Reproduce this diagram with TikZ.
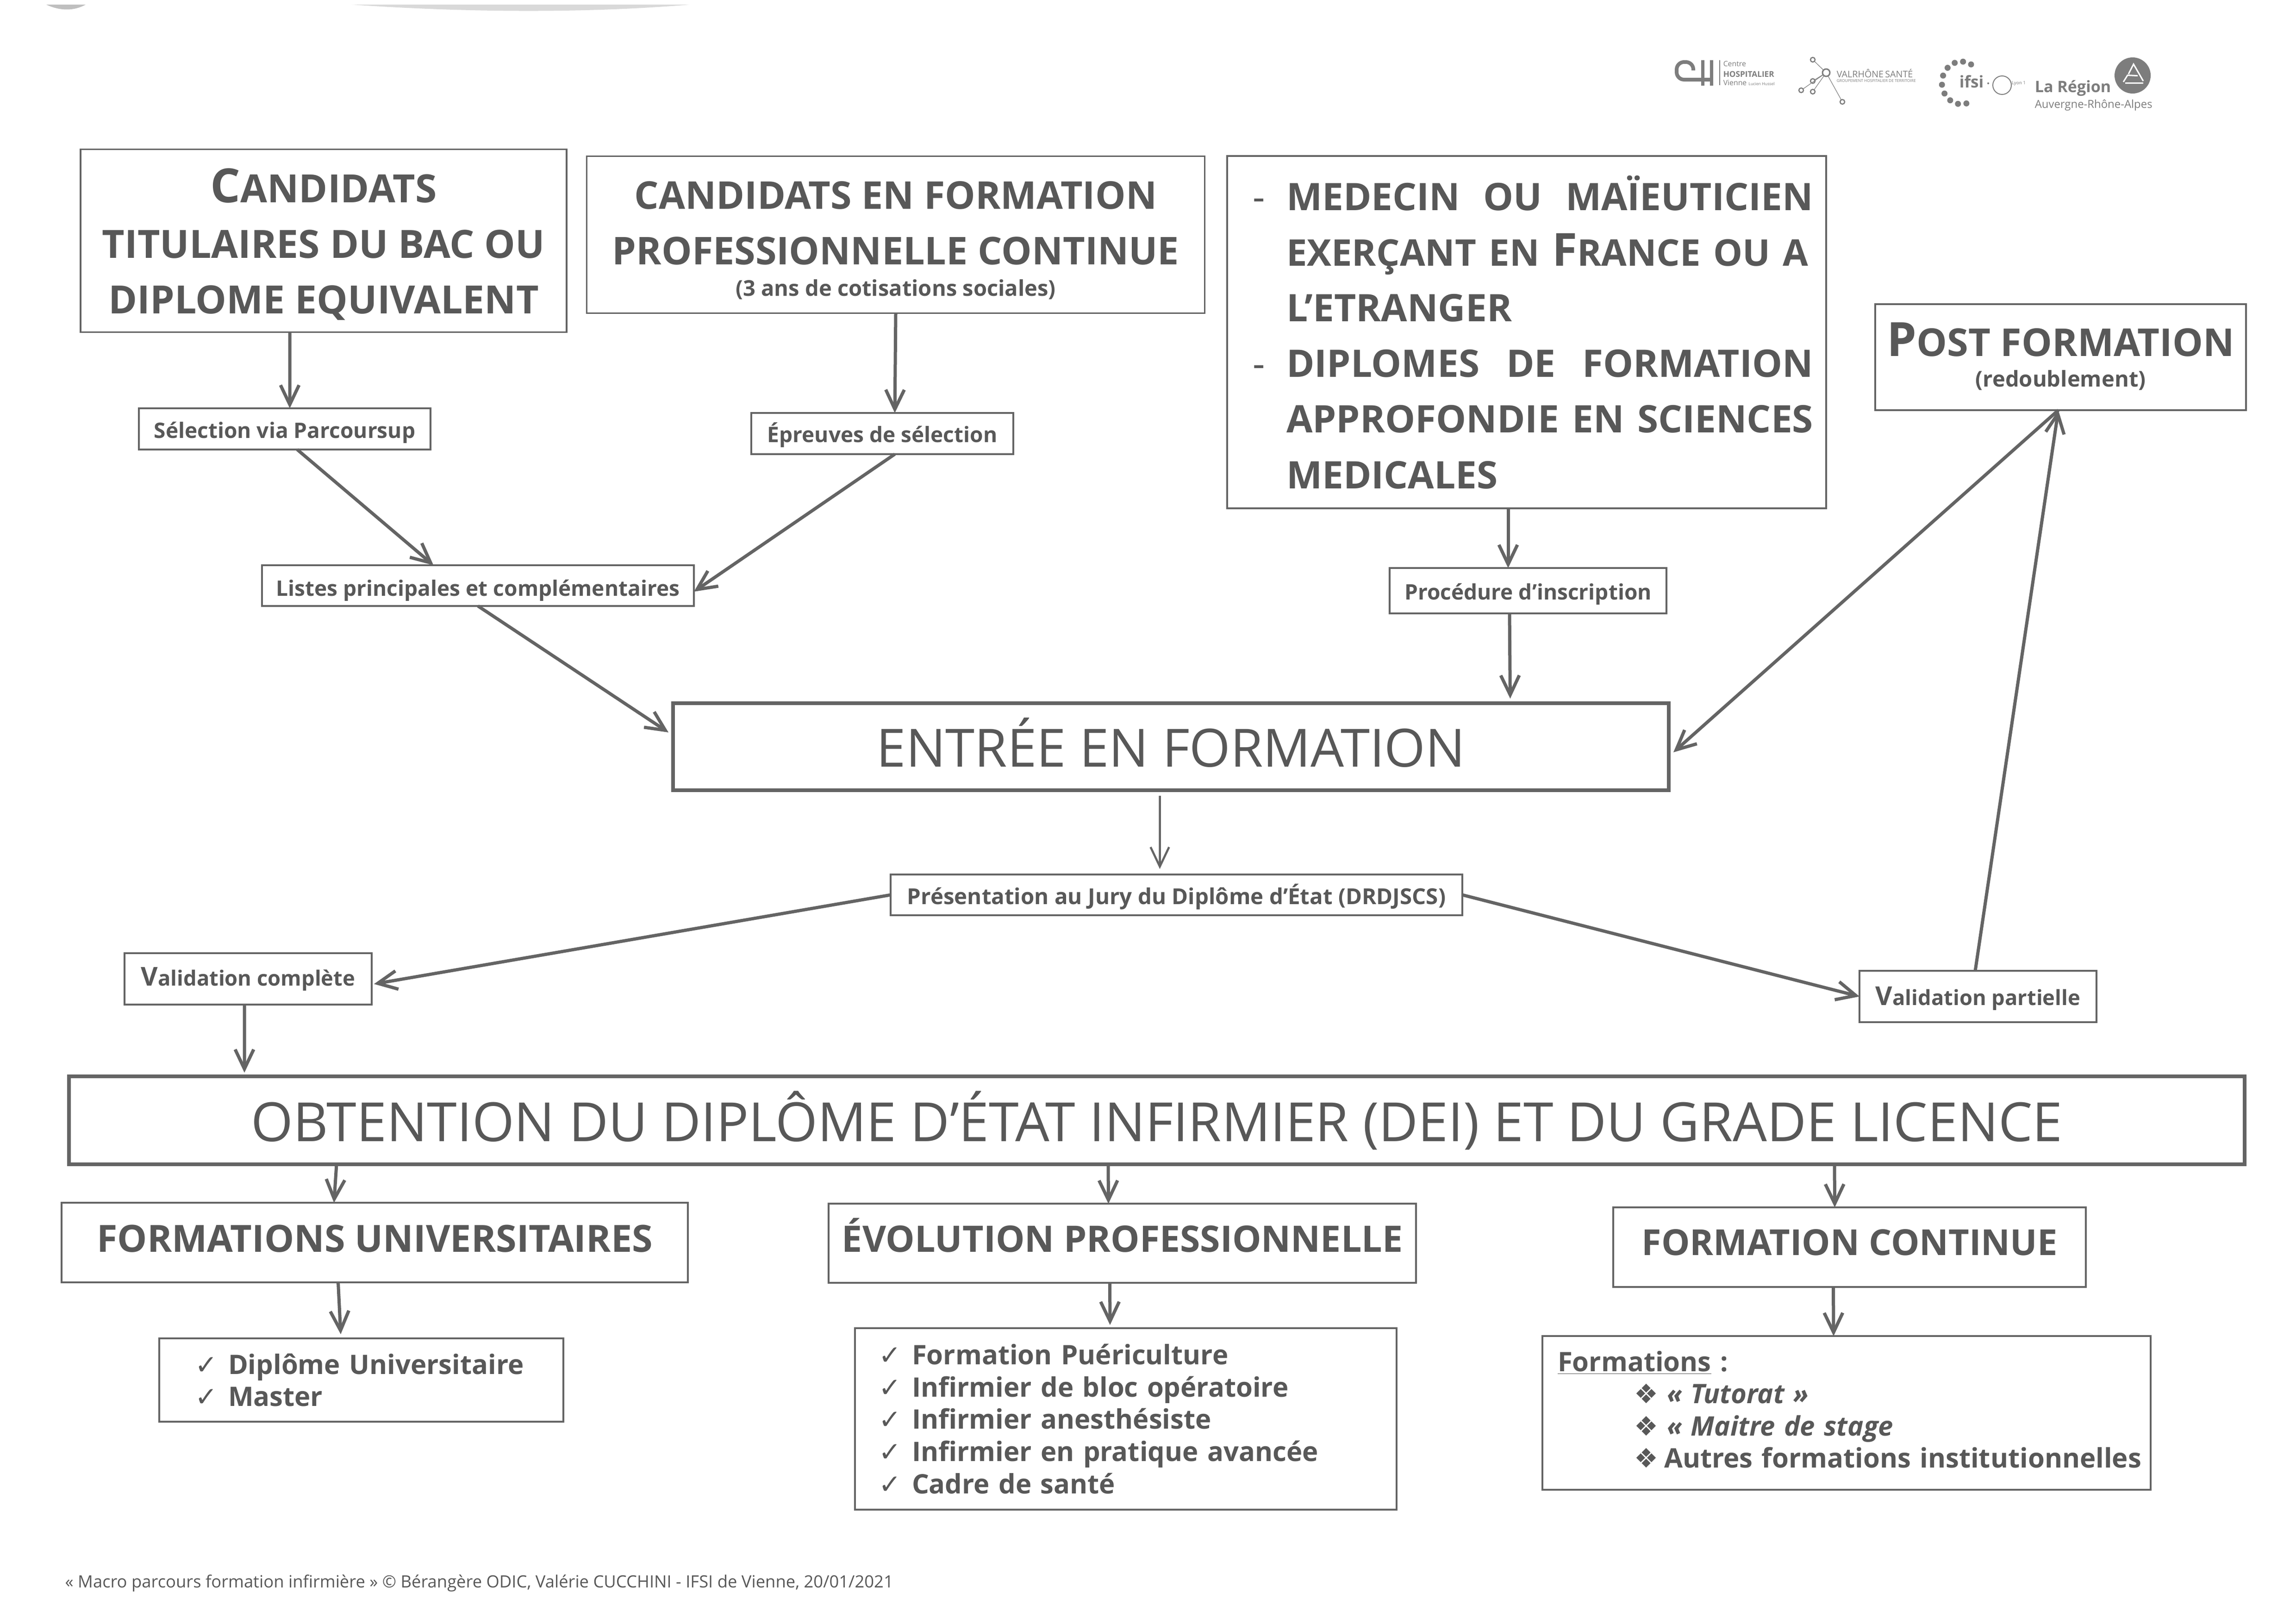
\documentclass[tikz,border=0pt]{standalone}
\usepackage{fontspec}
\usetikzlibrary{arrows.meta, positioning}
\setmainfont{Open Sans}
\newfontfamily\symfont{DejaVu Sans}
\definecolor{inkgray}{RGB}{88,88,88}
\definecolor{linegray}{RGB}{100,100,100}
\definecolor{logogray}{RGB}{125,125,125}
\newcommand{\fsz}[2]{\fontsize{#1pt}{#2pt}\selectfont}
\newcommand{\chk}[1]{\makebox[#1][l]{\symfont\mdseries ✓}}
\newcommand{\dmd}[1]{\makebox[#1][l]{\symfont\mdseries ❖}}

\begin{document}
\begin{tikzpicture}[x=1cm,y=-1cm,
    box/.style={draw=linegray, line width=0.035cm, text=inkgray, inner sep=0pt, outer sep=0pt, align=center, font=\bfseries},
    boxtext/.style={text=inkgray, inner sep=0pt, align=center},
    smallbox/.style={box, font=\bfseries\fsz{13.1}{16}, text depth=0.11cm},
    midbox/.style={box, font=\bfseries\fsz{22.4}{24}},
    listbox/.style={box, align=left, font=\bfseries\fsz{16.5}{19.8}},
    heavybox/.style={box, line width=0.08cm, font=\mdseries},
    flow/.style={draw=linegray, line width=0.07cm, -{Straight Barb[length=0.42cm,width=0.4cm]}},
    thinflow/.style={flow, line width=0.045cm},
    logotext/.style={inner sep=0pt, text=logogray, anchor=west}]
    \useasboundingbox (0,0) rectangle (49.6,35.07);

    % Scan marks
    \fill[gray!30] (7.6,0.1) .. controls (10.5,0.3) and (13,0.26) .. (14.9,0.1) -- cycle;
    \fill[gray!50] (1,0.1) .. controls (1.3,0.24) and (1.6,0.24) .. (1.85,0.1) -- cycle;

    % Entry profiles
    \node[box, minimum width=10.5cm, minimum height=3.95cm, font=\bfseries\fsz{23.9}{34.2}] (cand) at (6.99,5.2)
        {\rule{0pt}{0.89cm}{\fsz{29}{34.2}C}ANDIDATS\\TITULAIRES DU BAC OU\\DIPLOME EQUIVALENT};
    \node[box, minimum width=13.35cm, minimum height=3.39cm] (cfpc) at (19.35,5.07) {};
    \node[boxtext, font=\bfseries\fsz{23.5}{34.2}] (cfpctext) at (19.35,5.19)
        {CANDIDATS EN FORMATION\\PROFESSIONNELLE CONTINUE\\[-0.52cm]{\fsz{13.4}{14.5}(3 ans de cotisations sociales)}};
    \node[box, text width=12.94cm, minimum height=7.61cm, align=left, font=\bfseries\fsz{23.3}{34.2}] (medecin) at (32.98,7.175)
        {\hspace*{1.28cm}\llap{\mdseries -\hspace{0.46cm}}\makebox[11.38cm][s]{MEDECIN\hfill OU\hfill MAÏEUTICIEN}\\
         \hspace*{1.28cm}\makebox[11.38cm][s]{\fsz{22.6}{34.2}EXERÇANT EN {\fsz{28}{34.2}F}RANCE OU A}\\
         \hspace*{1.28cm}L'ETRANGER\\
         \hspace*{1.28cm}\llap{\mdseries -\hspace{0.46cm}}\makebox[11.38cm][s]{DIPLOMES\hfill DE\hfill FORMATION}\\
         \hspace*{1.28cm}\makebox[11.38cm][s]{APPROFONDIE\hfill EN\hfill SCIENCES}\\
         \hspace*{1.28cm}MEDICALES};
    \node[box, minimum width=8.01cm, minimum height=2.29cm] (post) at (44.515,7.715) {};
    \node[boxtext, font=\bfseries\fsz{23.6}{26}] (posttext) at (44.515,7.70)
        {{\fsz{29}{26}P}OST FORMATION\\[-0.25cm]{\fsz{13.4}{18}(redoublement)}};

    % Selection steps
    \node[smallbox, minimum width=6.3cm, minimum height=0.89cm, text height=0.5cm] (selection) at (6.15,9.265) {Sélection via Parcoursup};
    \node[smallbox, minimum width=5.66cm, minimum height=0.89cm, text height=0.49cm] (epreuves) at (19.06,9.365) {Épreuves de sélection};
    \node[smallbox, minimum width=9.33cm, minimum height=0.88cm, text height=0.56cm] (listes) at (10.325,12.65) {Listes principales et complémentaires};
    \node[smallbox, minimum width=5.98cm, minimum height=0.98cm, text height=0.5cm] (procedure) at (33.01,12.76) {Procédure d'inscription};

    % Training
    \node[heavybox, minimum width=21.51cm, minimum height=1.88cm, font=\fsz{32.4}{36}] (entree) at (25.295,16.13) {\raisebox{0.19cm}{ENTRÉE EN FORMATION}};
    \node[smallbox, minimum width=12.35cm, minimum height=0.88cm, font=\bfseries\fsz{13.5}{16}, text height=0.51cm] (jury) at (25.415,19.33) {Présentation au Jury du Diplôme d'État (DRDJSCS)};
    \node[smallbox, minimum width=5.34cm, minimum height=1.11cm, font=\bfseries\fsz{12.9}{16}] (complete) at (5.36,21.145) {{\fsz{16}{16}V}alidation complète};
    \node[smallbox, minimum width=5.12cm, minimum height=1.11cm, font=\bfseries\fsz{12.9}{16}, text height=0.48cm] (partielle) at (42.73,21.525) {{\fsz{16}{16}V}alidation partielle};

    % Diploma
    \node[heavybox, minimum width=47cm, minimum height=1.9cm, font=\fsz{33.2}{36}] (diplome) at (24.99,24.2) {\raisebox{0.12cm}{OBTENTION DU DIPLÔME D'ÉTAT INFIRMIER (DEI) ET DU GRADE LICENCE}};

    % After the diploma
    \node[midbox, minimum width=13.53cm, minimum height=1.72cm, font=\bfseries\fsz{23}{24}] (univ) at (8.095,26.84) {\raisebox{0.17cm}{FORMATIONS UNIVERSITAIRES}};
    \node[midbox, minimum width=12.69cm, minimum height=1.71cm] (evol) at (24.245,26.855) {\raisebox{0.36cm}{ÉVOLUTION PROFESSIONNELLE}};
    \node[midbox, minimum width=10.21cm, minimum height=1.72cm, font=\bfseries\fsz{22}{24}] (continue) at (39.955,26.94) {\raisebox{0.22cm}{FORMATION CONTINUE}};

    \node[listbox, text width=8.73cm, minimum height=1.8cm] (listuniv) at (7.805,29.81)
        {\hspace*{0.77cm}\chk{0.72cm}Diplôme Universitaire\\\hspace*{0.77cm}\chk{0.72cm}Master};
    \node[listbox, text width=11.7cm, minimum height=3.92cm] (listevol) at (24.32,30.65)
        {\hspace*{0.51cm}\chk{0.72cm}Formation Puériculture\\
         \hspace*{0.51cm}\chk{0.72cm}Infirmier de bloc opératoire\\
         \hspace*{0.51cm}\chk{0.72cm}Infirmier anesthésiste\\
         \hspace*{0.51cm}\chk{0.72cm}Infirmier en pratique avancée\\
         \hspace*{0.51cm}\chk{0.72cm}Cadre de santé};
    \node[listbox, text width=13.14cm, minimum height=3.32cm] (listcont) at (39.89,30.52)
        {\hspace*{0.33cm}\underline{Formations} :\\
         \hspace*{1.98cm}\dmd{0.71cm}\textit{« Tutorat »}\\
         \hspace*{1.98cm}\dmd{0.71cm}\textit{« Maitre de stage}\\
         \hspace*{1.98cm}\dmd{0.65cm}Autres formations institutionnelles\rule[-0.15cm]{0pt}{0.1cm}};

    % Connectors
    \draw[flow] ([xshift=-0.73cm]cand.south) -- ([xshift=0.11cm]selection.north);
    \draw[flow] (cfpc.south) -- ([xshift=0.27cm]epreuves.north);
    \draw[flow] ([xshift=0.27cm]selection.south) -- ([xshift=-0.96cm]listes.north);
    \draw[flow] ([xshift=0.27cm]epreuves.south) -- ([yshift=-0.13cm]listes.east);
    \draw[flow] (listes.south) -- ([xshift=-0.1cm,yshift=0.31cm]entree.west);
    \draw[flow] ([xshift=-0.4cm]medecin.south) -- ([xshift=-0.43cm]procedure.north);
    \draw[flow, shorten >=0.1cm] ([xshift=-0.4cm]procedure.south) -- ([xshift=7.33cm]entree.north);
    \draw[thinflow, shorten <=0.12cm, shorten >=0.12cm] ([xshift=-0.24cm]entree.south) -- ([xshift=-0.36cm]jury.north);
    \draw[flow] (jury.west) -- ([xshift=0.05cm,yshift=-0.11cm]complete.east);
    \draw[flow] (jury.east) -- (partielle.west);
    \draw[flow] ([xshift=-0.06cm]partielle.north) -- ([xshift=-0.05cm]post.south);
    \draw[flow] ([xshift=-0.05cm]post.south) -- ([xshift=0.1cm,yshift=-0.12cm]entree.east);
    \draw[flow, shorten >=0.08cm] ([xshift=-0.08cm]complete.south) -- ([xshift=-19.71cm]diplome.north);
    \draw[flow] ([xshift=-17.72cm]diplome.south) -- ([xshift=-0.88cm]univ.north);
    \draw[flow] ([xshift=-1.05cm]diplome.south) -- ([xshift=-0.3cm]evol.north);
    \draw[flow] ([xshift=14.64cm]diplome.south) -- ([xshift=-0.32cm]continue.north);
    \draw[flow, shorten >=0.09cm] ([xshift=-0.79cm]univ.south) -- ([xshift=-0.44cm]listuniv.north);
    \draw[flow, shorten >=0.07cm] ([xshift=-0.27cm]evol.south) -- ([xshift=-0.34cm]listevol.north);
    \draw[flow] ([xshift=-0.35cm]continue.south) -- ([xshift=-0.28cm]listcont.north);

    % Footer
    \node[anchor=west, inner sep=0pt, text=inkgray, font=\fsz{10.35}{13}] (footer) at (1.4,34.2)
        {« Macro parcours formation infirmière » © Bérangère ODIC, Valérie CUCCHINI - IFSI de Vienne, 20/01/2021};

    % Logos
    \draw[logogray, line width=0.08cm, rounded corners=0.16cm] (36.58,1.52) -- (36.58,1.34) -- (36.22,1.34) -- (36.22,1.72) -- (36.97,1.72);
    \draw[logogray, line width=0.07cm] (36.78,1.3) -- (36.78,1.85);
    \draw[logogray, line width=0.07cm] (36.97,1.3) -- (36.97,1.85);
    \draw[logogray, line width=0.015cm] (37.15,1.3) -- (37.15,1.84);
    \node[logotext, font=\fsz{4.5}{5}] (chline1) at (37.22,1.38) {Centre};
    \node[logotext, font=\bfseries\fsz{4.9}{5}] (chline2) at (37.22,1.6) {HOSPITALIER};
    \node[logotext, font=\fsz{4.5}{5}] (chline3) at (37.22,1.79) {Vienne {\fsz{2.5}{3}Lucien Hussel}};

    \foreach \nx/\ny in {39.16/1.29, 39.16/1.75, 38.91/1.95, 39.16/1.98, 39.8/2.2} {
        \draw[logogray, line width=0.012cm] (39.45,1.57) -- (\nx,\ny);
        \fill[white] (\nx,\ny) circle (0.05);
        \draw[logogray, line width=0.025cm] (\nx,\ny) circle (0.05);
    }
    \fill[white] (39.45,1.57) circle (0.08);
    \draw[logogray, line width=0.03cm] (39.45,1.57) circle (0.08);
    \node[logotext, font=\fsz{5.6}{6}] (valrhone) at (39.67,1.58) {VALRHÔNE{\bfseries\,}SANTÉ};
    \node[logotext, font=\fsz{2.4}{3}] (ght) at (39.67,1.74) {GROUPEMENT HOSPITALIER DE TERRITOIRE};

    \foreach \ang in {60,85,...,290} {
        \fill[logogray] ({42.37+0.42*cos(\ang)},{1.79-0.46*sin(\ang)}) circle (0.065);
    }
    \node[logotext, font=\bfseries\fsz{10}{11}, anchor=center] (ifsi) at (42.59,1.76) {ifsi};
    \fill[logogray] (42.95,1.8) circle (0.02);
    \draw[logogray, line width=0.02cm] (43.25,1.84) circle (0.2);
    \node[logotext, font=\fsz{2.8}{3}] (lyon) at (43.45,1.8) {Lyon 1};

    \fill[logogray] (46.07,1.63) circle (0.39);
    \draw[white, line width=0.03cm] (45.87,1.77) -- (45.96,1.625) -- (46.18,1.636);
    \draw[white, line width=0.03cm] (45.98,1.6) -- (46.09,1.386) -- (46.3,1.75);
    \draw[white, line width=0.03cm] (45.91,1.79) -- (46.3,1.79);
    \node[logotext, font=\bfseries\fsz{9.7}{10}] (region) at (43.95,1.91) {La Région};
    \node[logotext, font=\fsz{6.8}{8}] (auvergne) at (43.95,2.27) {Auvergne-Rhône-Alpes};
\end{tikzpicture}
\end{document}
